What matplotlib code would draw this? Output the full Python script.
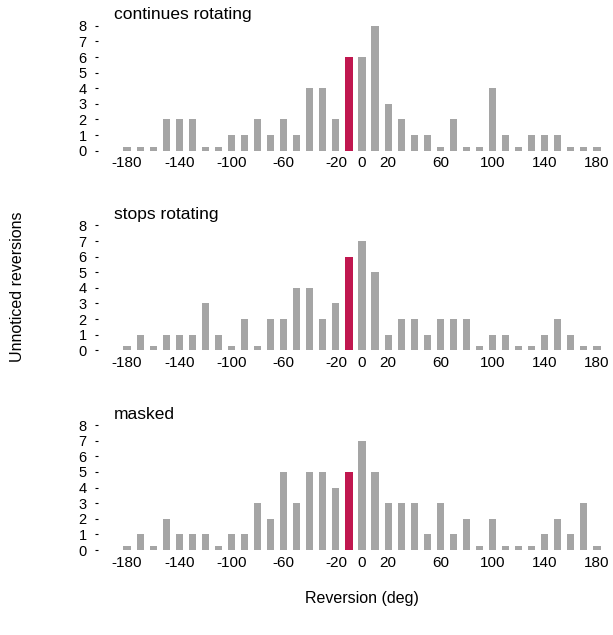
import numpy as np
import matplotlib
matplotlib.use("Agg")
import matplotlib.pyplot as plt

plt.rcParams['font.family'] = ['Liberation Sans', 'DejaVu Sans']

# bins of reversion angle (deg), one bar per 10 deg
angles = np.arange(-180, 181, 10)
tick_vals = [-180, -140, -100, -60, -20, 0, 20, 60, 100, 140, 180]

continues = [0, 0, 0, 2, 2, 2, 0, 0, 1, 1, 2, 1, 2, 1, 4, 4, 2, 6,
             6, 8, 3, 2, 1, 1, 0, 2, 0, 0, 4, 1, 0, 1, 1, 1, 0, 0, 0]
stops = [0, 1, 0, 1, 1, 1, 3, 1, 0, 2, 0, 2, 2, 4, 4, 2, 3, 6,
         7, 5, 1, 2, 2, 1, 2, 2, 2, 0, 1, 1, 0, 0, 1, 2, 1, 0, 0]
masked = [0, 1, 0, 2, 1, 1, 1, 0, 1, 1, 3, 2, 5, 3, 5, 5, 4, 5,
          7, 5, 3, 3, 3, 1, 3, 1, 2, 0, 2, 0, 0, 0, 1, 2, 1, 3, 0]

panels = [("continues rotating", continues),
          ("stops rotating", stops),
          ("masked", masked)]
highlight = -10

GREY = "#a5a5a5"
RED = "#c0174f"

W, H = 613, 635
fig = plt.figure(figsize=(W / 100, H / 100), dpi=100)

bottoms_px = [150.7, 350.3, 550.0]      # baseline of each panel (px from top)
for (title, vals), b in zip(panels, bottoms_px):
    ax = fig.add_axes([114 / W, 1 - b / H, 496 / W, 128 / H])
    vals = np.array(vals, dtype=float)
    shown = np.where(vals == 0, 0.25, vals)   # zero bins drawn as a stub
    colors = [RED if a == highlight else GREY for a in angles]
    ax.bar(angles, shown, width=5.5, color=colors, linewidth=0)
    ax.set_xlim(-190, 190)
    ax.set_ylim(0, 8.2)
    ax.set_yticks(range(0, 9))
    ax.set_xticks(tick_vals)
    ax.set_xticklabels([str(t) for t in tick_vals])
    for s in ["top", "right", "bottom"]:
        ax.spines[s].set_visible(False)
    ax.spines["left"].set_position(("outward", 11.5))
    ax.spines["left"].set_visible(False)
    ax.tick_params(axis="y", length=2.2, width=0.8, pad=6, labelsize=10.5)
    ax.tick_params(axis="x", length=0, pad=4, labelsize=11)
    ax.text(-190, 8.7, title, fontsize=12.5, va="center", ha="left")
    ax.patch.set_visible(False)

fig.text(18 / W, 1 - 287 / H, "Unnoticed reversions", rotation=90,
         ha="center", va="center", fontsize=11.5)
fig.text(362 / W, 1 - 598 / H, "Reversion (deg)", ha="center", va="center",
         fontsize=11.5)

fig.savefig("out.png", dpi=100)
